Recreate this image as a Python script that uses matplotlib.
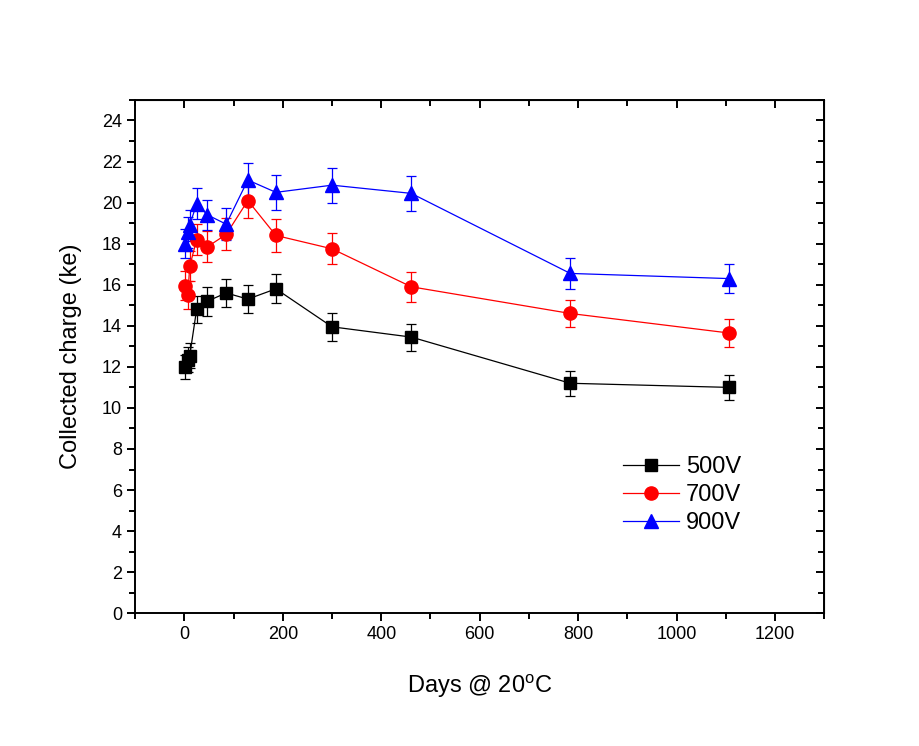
import matplotlib
matplotlib.use("Agg")
import matplotlib.pyplot as plt
from matplotlib.ticker import MultipleLocator

plt.rcParams['font.family'] = ['Liberation Sans', 'DejaVu Sans']
plt.rcParams['mathtext.fontset'] = 'custom'
plt.rcParams['mathtext.rm'] = 'Liberation Sans'

# annealing time in days
days = [1, 7, 11, 25, 47, 85, 129, 186, 300, 461, 784, 1106]

q500 = [12.0, 12.35, 12.55, 14.8, 15.2, 15.6, 15.3, 15.8, 13.95, 13.45, 11.2, 11.0]
e500 = [0.6, 0.6, 0.6, 0.67, 0.7, 0.7, 0.7, 0.7, 0.67, 0.66, 0.6, 0.6]

q700 = [15.95, 15.5, 16.9, 18.2, 17.85, 18.45, 20.1, 18.4, 17.75, 15.9, 14.6, 13.65]
e700 = [0.7, 0.7, 0.72, 0.77, 0.75, 0.78, 0.85, 0.8, 0.76, 0.73, 0.68, 0.67]

q900 = [18.0, 18.55, 18.9, 19.95, 19.4, 18.95, 21.1, 20.5, 20.85, 20.45, 16.55, 16.3]
e900 = [0.72, 0.74, 0.75, 0.76, 0.75, 0.78, 0.81, 0.85, 0.86, 0.87, 0.75, 0.72]

series = [
    ("500V", q500, e500, "black", "s", 8.5),
    ("700V", q700, e700, "red", "o", 9.5),
    ("900V", q900, e900, "blue", "^", 10),
]

fig = plt.figure(figsize=(9.19, 7.46), dpi=100)
ax = fig.add_axes([0.147, 0.178, 0.750, 0.688])

handles = []
for label, q, e, col, mk, ms in series:
    eb = ax.errorbar(days, q, yerr=e, color=col, marker=mk, markersize=ms,
                     linewidth=0.9, elinewidth=0.9, capsize=3.5, capthick=0.9)
    eb[0].set_label(label)
    handles.append(eb[0])

ax.set_xlim(-100, 1300)
ax.set_ylim(0, 25)
ax.xaxis.set_major_locator(MultipleLocator(200))
ax.xaxis.set_minor_locator(MultipleLocator(100))
ax.yaxis.set_major_locator(MultipleLocator(2))
ax.yaxis.set_minor_locator(MultipleLocator(1))

for s in ax.spines.values():
    s.set_linewidth(1.4)

ax.tick_params(which='both', direction='out', top=False, right=False, width=1.4, labelsize=13)
ax.tick_params(which='major', length=6)
ax.tick_params(which='minor', length=4)

# inward ticks on top and right
ax_t = ax.secondary_xaxis('top')
ax_t.xaxis.set_major_locator(MultipleLocator(200))
ax_t.xaxis.set_minor_locator(MultipleLocator(100))
ax_t.tick_params(which='both', direction='in', labeltop=False, width=1.4)
ax_t.tick_params(which='major', length=6)
ax_t.tick_params(which='minor', length=4)
ax_r = ax.secondary_yaxis('right')
ax_r.yaxis.set_major_locator(MultipleLocator(2))
ax_r.yaxis.set_minor_locator(MultipleLocator(1))
ax_r.tick_params(which='both', direction='in', labelright=False, width=1.4)
ax_r.tick_params(which='major', length=6)
ax_r.tick_params(which='minor', length=4)

ax.set_xlabel(r'Days @ 20$^\mathrm{o}$C', fontsize=17, labelpad=21)
ax.set_ylabel('Collected charge (ke)', fontsize=17, labelpad=14)

ax.legend(handles=handles, loc='upper left', bbox_to_anchor=(0.708, 0.306),
          frameon=False, fontsize=17, borderpad=0, borderaxespad=0,
          handlelength=2.35, handletextpad=0.3, labelspacing=0.25)

fig.savefig("out.png", dpi=100)
